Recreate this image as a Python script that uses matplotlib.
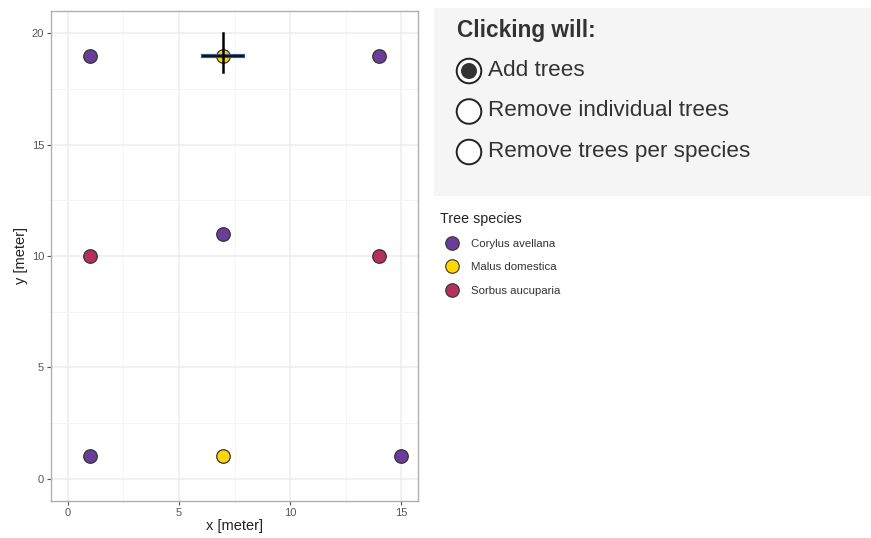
import matplotlib
matplotlib.use('Agg')
import matplotlib.pyplot as plt
from matplotlib.patches import Rectangle, Circle
from matplotlib.ticker import MultipleLocator

plt.rcParams['font.family'] = ['Liberation Sans', 'DejaVu Sans']

# tree positions per species
species = ['Corylus avellana', 'Malus domestica', 'Sorbus aucuparia']
colors = ['#6a3d9a', '#ffd700', '#b5305c']
corylus_x = [1, 14, 7, 1, 15]
corylus_y = [19, 19, 11, 1, 1]
malus_x = [7, 7]
malus_y = [19, 1]
sorbus_x = [1, 14]
sorbus_y = [10, 10]
cursor = (7, 19)

options = ['Add trees', 'Remove individual trees', 'Remove trees per species']
selected = 0

fig = plt.figure(figsize=(8.71, 5.38), dpi=100)
W, H = 871, 538

ax = fig.add_axes([51 / W, 1 - 501 / H, (418 - 51) / W, (501 - 11) / H])
ax.set_xlim(-0.75, 15.75)
ax.set_ylim(-1, 21)
ax.xaxis.set_major_locator(MultipleLocator(5))
ax.yaxis.set_major_locator(MultipleLocator(5))
ax.xaxis.set_minor_locator(MultipleLocator(2.5))
ax.yaxis.set_minor_locator(MultipleLocator(2.5))
ax.grid(which='major', color='#ededed', lw=1.1)
ax.grid(which='minor', color='#f4f4f4', lw=0.6)
ax.set_axisbelow(True)
for s in ax.spines.values():
    s.set_color('#b0b0b0')
    s.set_linewidth(1.0)
ax.tick_params(which='major', length=3, color='#555555', labelsize=8, labelcolor='#555555', pad=2)
ax.tick_params(which='minor', length=0)
ax.set_xlabel('x [meter]', fontsize=10.5, color='#222222', labelpad=1)
ax.set_ylabel('y [meter]', fontsize=10.5, color='#222222', labelpad=3)

for xs, ys, c in zip([corylus_x, malus_x, sorbus_x], [corylus_y, malus_y, sorbus_y], colors):
    ax.scatter(xs, ys, s=95, color=c, edgecolor='#333333', linewidth=0.9, zorder=3)

# cursor crosshair
ax.plot([cursor[0] - 0.9, cursor[0] + 0.9], [cursor[1], cursor[1]], color='#2a5d9a', lw=3.0, zorder=4)
ax.plot([cursor[0] - 0.9, cursor[0] + 0.9], [cursor[1], cursor[1]], color='#111111', lw=1.4, zorder=5)
ax.plot([cursor[0], cursor[0]], [cursor[1] - 0.75, cursor[1] + 1.0], color='black', lw=1.8, zorder=6)

# right-hand panel, pixel coordinates
ov = fig.add_axes([0, 0, 1, 1])
ov.set_xlim(0, W)
ov.set_ylim(H, 0)
ov.axis('off')
ov.set_zorder(-1)

ov.add_patch(Rectangle((434, 8), W - 434, 188, facecolor='#f5f5f5', edgecolor='none'))
ov.text(457, 30, 'Clicking will:', fontsize=16.3, fontweight='bold', color='#333333', va='center')
for i, opt in enumerate(options):
    cy = 71 + i * 40.5
    ov.add_patch(Circle((469, cy), 12.3, facecolor='white', edgecolor='#222222', lw=1.4))
    if i == selected:
        ov.add_patch(Circle((469, cy), 8, facecolor='#333333', edgecolor='none'))
    ov.text(488, cy - 1, opt, fontsize=16.2, color='#333333', va='center')

ov.text(440, 219, 'Tree species', fontsize=10.3, color='#222222', va='center')
for i, (sp, c) in enumerate(zip(species, colors)):
    ly = 243 + i * 23.3
    ov.scatter([452], [ly], s=95, color=c, edgecolor='#333333', linewidth=0.8)
    ov.text(471, ly + 1, sp, fontsize=8.2, color='#333333', va='center')

fig.savefig('out.png', dpi=100)
